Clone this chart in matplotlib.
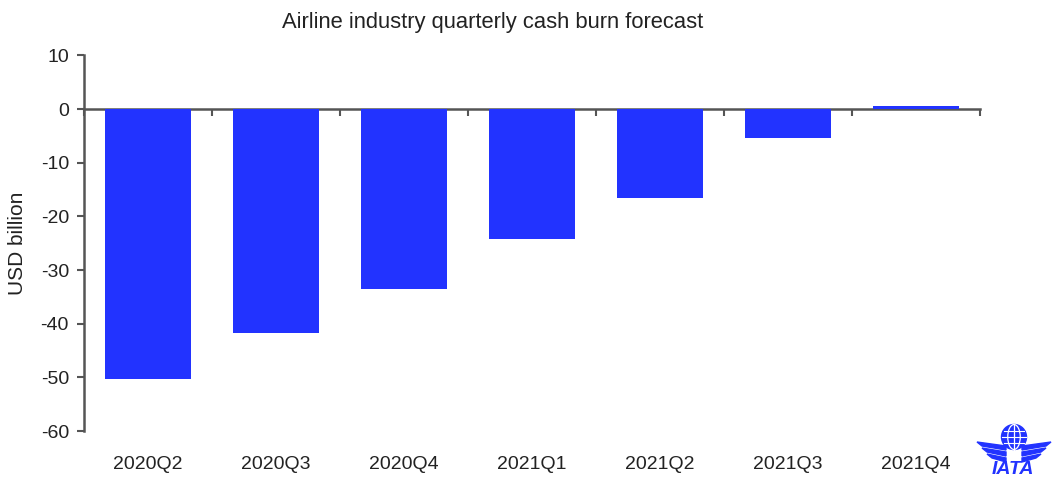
import matplotlib.pyplot as plt
import matplotlib.patches as mpatches
import numpy as np

plt.rcParams['font.family'] = ['Liberation Sans', 'DejaVu Sans']
plt.rcParams['axes.unicode_minus'] = False

# Quarterly cash burn forecast, USD billion
quarters = ['2020Q2', '2020Q3', '2020Q4', '2021Q1', '2021Q2', '2021Q3', '2021Q4']
cash_burn = [-50.3, -41.7, -33.5, -24.2, -16.6, -5.3, 0.6]

bar_color = '#2233ff'
axis_color = '#555555'
text_color = '#222222'

fig = plt.figure(figsize=(10.52, 4.78), dpi=100)
ax = fig.add_axes([0.08, 0.098, 0.8515, 0.786])

x = np.arange(len(quarters))
ax.bar(x, cash_burn, width=0.67, color=bar_color, zorder=2)

ax.set_xlim(-0.5, len(quarters) - 0.5)
ax.set_ylim(-60, 10)
ax.set_yticks(np.arange(-60, 11, 10))

# category labels sit at the bottom, the x axis line runs through zero
ax.set_xticks(x, quarters)
ax.tick_params(axis='x', length=0, pad=18, labelsize=14, labelcolor=text_color)
ax.tick_params(axis='y', length=5, width=1.5, color=axis_color, pad=6,
               labelsize=14, labelcolor=text_color)

for side in ['top', 'right', 'bottom']:
    ax.spines[side].set_visible(False)
ax.spines['left'].set_color(axis_color)
ax.spines['left'].set_linewidth(1.8)

zero_axis = ax.secondary_xaxis(0, transform=ax.transData)
zero_axis.set_xticks(np.arange(-0.5, len(quarters)), [''] * (len(quarters) + 1))
zero_axis.tick_params(length=5, width=1.5, color=axis_color, direction='out')
zero_axis.spines['bottom'].set_color(axis_color)
zero_axis.spines['bottom'].set_linewidth(1.8)

ax.set_ylabel('USD billion', fontsize=15, color=text_color, labelpad=10)
fig.text(0.468, 0.952, 'Airline industry quarterly cash burn forecast',
         ha='center', va='center', fontsize=15.8, color=text_color)

# IATA logo in the bottom right corner, drawn in pixel units
logo = fig.add_axes([965 / 1052, 0.0, 87 / 1052, 63 / 478])
logo.set_xlim(0, 87)
logo.set_ylim(0, 63)
logo.axis('off')
gx, gy, gr = 49, 41, 12.5
logo.add_patch(mpatches.Circle((gx, gy), gr, color=bar_color, zorder=3))
logo.add_patch(mpatches.Ellipse((gx, gy), gr, 2 * gr, fill=False,
                                ec='white', lw=0.9, zorder=4))
for dy in [-6, 0, 6]:
    half = np.sqrt(gr ** 2 - dy ** 2) * 0.95
    logo.plot([gx - half, gx + half], [gy + dy, gy + dy], color='white',
              lw=0.8, zorder=4)
logo.plot([gx, gx], [gy - gr, gy + gr], color='white', lw=0.9, zorder=4)

# three feathers per wing
for i, (top, bot) in enumerate([(36, 32), (30, 26), (24, 20)]):
    outer = 12 + i * 5
    logo.add_patch(mpatches.Polygon(
        [[outer, top], [gx - 8, top - 4], [gx - 8, bot - 4], [outer + 5, bot]],
        color=bar_color))
    logo.add_patch(mpatches.Polygon(
        [[2 * gx - outer, top], [gx + 8, top - 4], [gx + 8, bot - 4],
         [2 * gx - outer - 5, bot]], color=bar_color))

logo.text(gx - 1, 0.5, 'IATA', ha='center', va='bottom', fontsize=14,
          fontweight='bold', fontstyle='italic', color=bar_color)

fig.savefig('out.png', dpi=100)
